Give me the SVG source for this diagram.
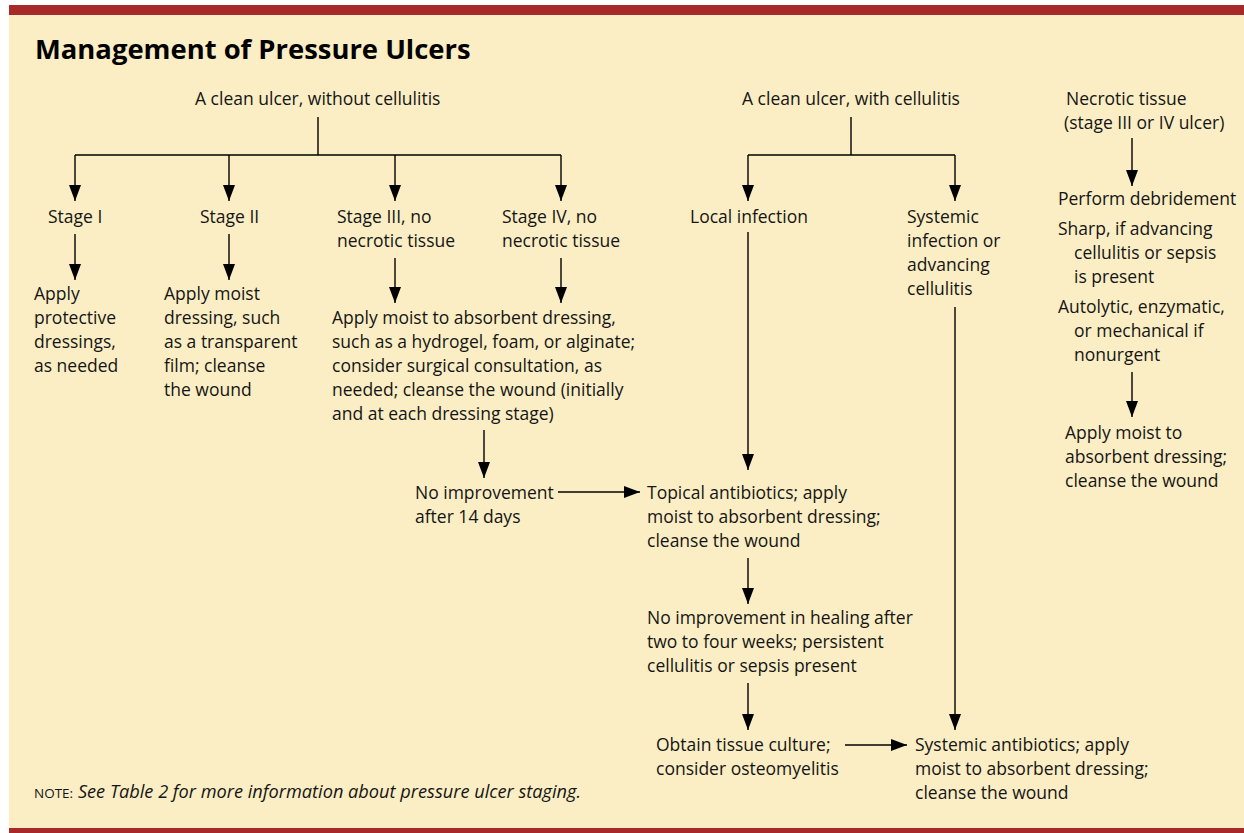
<svg xmlns="http://www.w3.org/2000/svg" width="1244" height="833" viewBox="0 0 1244 833">
<style>
.bg{fill:#FBEEC4}
.bar{fill:#A8292A}
text{font-family:"Open Sans","Liberation Sans",sans-serif;font-size:17.5px;fill:#151515}
.title{font-size:27.4px;font-weight:bold;fill:#000}
.note{font-size:18.2px;font-style:italic}
.sc{font-style:normal;font-size:13.5px}
.ln{stroke:#000;stroke-width:1.4;fill:none}
.ar{stroke:#000;stroke-width:1.4;fill:none;marker-end:url(#ah)}
</style>
<defs>
<marker id="ah" markerUnits="userSpaceOnUse" markerWidth="17" markerHeight="13" viewBox="0 0 17 13" refX="16" refY="6.5" orient="auto">
<path d="M0,0.5 L16,6.5 L0,12.5 Z" fill="#000"/>
</marker>
</defs>
<rect class="bg" x="9" y="5" width="1235" height="828"/>
<rect class="bar" x="9" y="5" width="1235" height="10"/>
<rect class="bar" x="9" y="828" width="1235" height="5"/>
<text class="title" x="35" y="59">Management of Pressure Ulcers</text>

<g id="connectors">
<path class="ln" d="M318,117 V155 M75,155 H561"/>
<path class="ar" d="M75,155 V201"/>
<path class="ar" d="M229,155 V201"/>
<path class="ar" d="M395,155 V201"/>
<path class="ar" d="M561,155 V201"/>
<path class="ar" d="M75,234 V280"/>
<path class="ar" d="M229,234 V280"/>
<path class="ar" d="M395,258 V303"/>
<path class="ar" d="M561,258 V303"/>
<path class="ar" d="M484,430 V478"/>
<path class="ar" d="M558,492 H640"/>
<path class="ar" d="M748,558 V604"/>
<path class="ar" d="M748,683 V730"/>
<path class="ar" d="M845,745 H907"/>
<path class="ln" d="M851,117 V155 M748,155 H955"/>
<path class="ar" d="M748,155 V201"/>
<path class="ar" d="M955,155 V201"/>
<path class="ar" d="M748,232 V470"/>
<path class="ar" d="M955,307 V730"/>
<path class="ar" d="M1132,138 V186"/>
<path class="ar" d="M1132,372 V417"/>
</g>

<g id="n-clean-without"><text x="195" y="105">A clean ulcer, without cellulitis</text></g>
<g id="n-stage1"><text x="48" y="223">Stage I</text></g>
<g id="n-stage2"><text x="200" y="223">Stage II</text></g>
<g id="n-stage3"><text x="337" y="223">Stage III, no</text><text x="337" y="247">necrotic tissue</text></g>
<g id="n-stage4"><text x="502" y="223">Stage IV, no</text><text x="502" y="247">necrotic tissue</text></g>
<g id="n-protective"><text x="34" y="300">Apply</text><text x="34" y="324">protective</text><text x="34" y="348">dressings,</text><text x="34" y="372">as needed</text></g>
<g id="n-moist"><text x="164" y="300">Apply moist</text><text x="164" y="324">dressing, such</text><text x="164" y="348">as a transparent</text><text x="164" y="372">film; cleanse</text><text x="164" y="396">the wound</text></g>
<g id="n-absorbent"><text x="332" y="324">Apply moist to absorbent dressing,</text><text x="332" y="348">such as a hydrogel, foam, or alginate;</text><text x="332" y="372">consider surgical consultation, as</text><text x="332" y="396">needed; cleanse the wound (initially</text><text x="332" y="420">and at each dressing stage)</text></g>
<g id="n-noimp14"><text x="415" y="499">No improvement</text><text x="415" y="523">after 14 days</text></g>
<g id="n-topical"><text x="647" y="499">Topical antibiotics; apply</text><text x="647" y="523">moist to absorbent dressing;</text><text x="647" y="547">cleanse the wound</text></g>
<g id="n-noimp24"><text x="647" y="624">No improvement in healing after</text><text x="647" y="648">two to four weeks; persistent</text><text x="647" y="672">cellulitis or sepsis present</text></g>
<g id="n-culture"><text x="656" y="751">Obtain tissue culture;</text><text x="656" y="775">consider osteomyelitis</text></g>
<g id="n-systemic-ab"><text x="915" y="751">Systemic antibiotics; apply</text><text x="915" y="775">moist to absorbent dressing;</text><text x="915" y="799">cleanse the wound</text></g>
<g id="n-clean-with"><text x="742" y="105">A clean ulcer, with cellulitis</text></g>
<g id="n-local"><text x="690" y="223">Local infection</text></g>
<g id="n-systemic-inf"><text x="907" y="223">Systemic</text><text x="907" y="247">infection or</text><text x="907" y="271">advancing</text><text x="907" y="295">cellulitis</text></g>
<g id="n-necrotic"><text x="1066" y="105">Necrotic tissue</text><text x="1064" y="129">(stage III or IV ulcer)</text></g>
<g id="n-debride"><text x="1058" y="205">Perform debridement</text><text x="1058" y="235">Sharp, if advancing</text><text x="1074" y="259">cellulitis or sepsis</text><text x="1074" y="283">is present</text><text x="1058" y="313">Autolytic, enzymatic,</text><text x="1074" y="337">or mechanical if</text><text x="1074" y="361">nonurgent</text></g>
<g id="n-apply-right"><text x="1065" y="439">Apply moist to</text><text x="1065" y="463">absorbent dressing;</text><text x="1065" y="487">cleanse the wound</text></g>
<text class="note" x="34" y="798"><tspan class="sc">NOTE:</tspan> See Table 2 for more information about pressure ulcer staging.</text>
</svg>
